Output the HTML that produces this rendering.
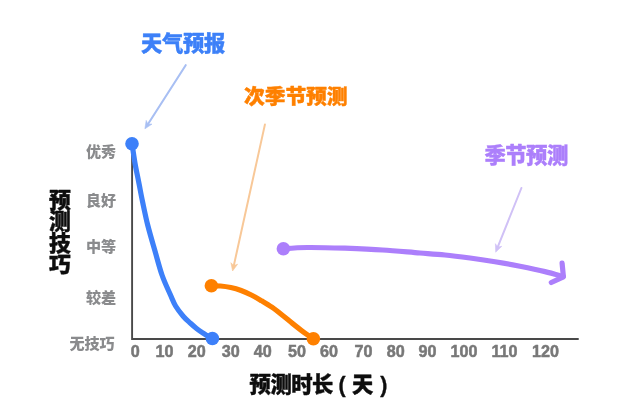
<!DOCTYPE html>
<html lang="zh-CN">
<head>
<meta charset="utf-8">
<title>预测技巧与预测时长</title>
<style>
html,body{margin:0;padding:0;background:#fff;}
body{width:640px;height:414px;overflow:hidden;}
svg{display:block;}
.h{font-family:"Liberation Sans","Noto Sans CJK SC","WenQuanYi Zen Hei",sans-serif;font-weight:900;}
.y{font-family:"Liberation Sans","Noto Sans CJK SC","WenQuanYi Zen Hei",sans-serif;font-weight:900;fill:#8a8b8d;font-size:15.1px;text-anchor:end;}
.t{font-family:"Liberation Sans",sans-serif;font-weight:700;fill:#787878;stroke:#787878;stroke-width:0.55px;stroke-linejoin:round;font-size:17.4px;text-anchor:middle;}
</style>
</head>
<body>
<svg width="640" height="414" viewBox="0 0 640 414">
<rect width="640" height="414" fill="#fff"/>
<g filter="url(#soft)">
<defs><filter id="soft" x="0" y="0" width="640" height="414" filterUnits="userSpaceOnUse"><feGaussianBlur stdDeviation="0.65"/></filter></defs>
<!-- axes -->
<path d="M132.1 143 V339 H578.7" fill="none" stroke="#484848" stroke-width="1.9"/>
<text class="t" transform="translate(135.3 356.6) scale(0.93 1)">0</text>
<text class="t" transform="translate(164.6 356.6) scale(0.93 1)">10</text>
<text class="t" transform="translate(196.8 356.6) scale(0.93 1)">20</text>
<text class="t" transform="translate(230.8 356.6) scale(0.93 1)">30</text>
<text class="t" transform="translate(262.8 356.6) scale(0.93 1)">40</text>
<text class="t" transform="translate(297.1 356.6) scale(0.93 1)">50</text>
<text class="t" transform="translate(328.9 356.6) scale(0.93 1)">60</text>
<text class="t" transform="translate(363.4 356.6) scale(0.93 1)">70</text>
<text class="t" transform="translate(395.7 356.6) scale(0.93 1)">80</text>
<text class="t" transform="translate(427.5 356.6) scale(0.93 1)">90</text>
<text class="t" transform="translate(464.1 356.6) scale(0.93 1)">100</text>
<text class="t" transform="translate(504.5 356.6) scale(0.93 1)">110</text>
<text class="t" transform="translate(545.5 356.6) scale(0.93 1)">120</text>
<text class="y" x="116.2" y="156.5">优秀</text>
<text class="y" x="116.2" y="205.9">良好</text>
<text class="y" x="116.2" y="251.5">中等</text>
<text class="y" x="116.2" y="302.8">较差</text>
<text class="y" x="114.7" y="349.1">无技巧</text>
<!-- axis titles -->
<text class="h" font-size="21.8" fill="#111" stroke="#111" stroke-width="0.4" stroke-linejoin="round" text-anchor="middle"><tspan x="60" y="207.5">预</tspan><tspan x="60" y="229">测</tspan><tspan x="60" y="250.5">技</tspan><tspan x="60" y="272">巧</tspan></text>
<text class="h" font-size="21.3" fill="#111" stroke="#111" stroke-width="0.4" stroke-linejoin="round" x="249.6" y="392.2" letter-spacing="-0.5">预测时长<tspan x="338.6">(</tspan><tspan x="352.0">天</tspan><tspan x="380.3">)</tspan></text>
<!-- series labels -->
<text class="h" font-size="21.3" fill="#3c80f8" stroke="#3c80f8" stroke-width="0.4" stroke-linejoin="round" x="141.0" y="50.6" letter-spacing="-0.3">天气预报</text>
<text class="h" font-size="20.8" fill="#fe8004" stroke="#fe8004" stroke-width="0.4" stroke-linejoin="round" x="244.0" y="104.0" letter-spacing="-0.1">次季节预测</text>
<text class="h" font-size="21.3" fill="#ac7ffb" stroke="#ac7ffb" stroke-width="0.4" stroke-linejoin="round" x="484.4" y="163.0" letter-spacing="-0.45">季节预测</text>
<!-- pointer arrows -->
<path d="M185.7 65.2 L147.9 124.2" fill="none" stroke="#a8bff3" stroke-width="2.1" stroke-linecap="round"/><path d="M144.9 128.8 L152.0 124.1 L147.9 124.2 L146.2 120.4 Z" fill="#a8bff3" stroke="#a8bff3" stroke-width="0.6" stroke-linejoin="round"/>
<path d="M264.9 124.6 L233.8 265.6" fill="none" stroke="#f8c898" stroke-width="2.0" stroke-linecap="round"/><path d="M232.6 271.0 L237.6 264.2 L233.8 265.6 L230.9 262.7 Z" fill="#f8c898" stroke="#f8c898" stroke-width="0.6" stroke-linejoin="round"/>
<path d="M521.4 188.0 L497.7 247.1" fill="none" stroke="#d0c1f6" stroke-width="2.0" stroke-linecap="round"/><path d="M495.7 252.2 L501.8 246.3 L497.7 247.1 L495.4 243.7 Z" fill="#d0c1f6" stroke="#d0c1f6" stroke-width="0.6" stroke-linejoin="round"/>
<!-- curves -->
<g fill="none" stroke-width="5.2" stroke-linecap="round" stroke-linejoin="round">
<path d="M132.0 143.8 C132.6 147.3 134.2 158.5 135.3 165.0 C136.5 171.5 137.8 177.2 138.9 183.0 C140.1 188.8 140.7 193.0 142.2 200.0 C143.7 207.0 145.6 216.7 147.7 225.0 C149.8 233.3 152.3 241.7 154.7 250.0 C157.1 258.3 159.4 267.5 162.0 275.0 C164.6 282.5 168.2 289.8 170.5 295.0 C172.8 300.2 173.5 302.5 175.6 306.0 C177.7 309.5 180.8 313.4 183.2 316.2 C185.6 319.0 188.0 321.0 190.2 323.0 C192.4 325.0 194.2 326.6 196.2 328.2 C198.2 329.8 200.3 331.3 202.3 332.7 C204.3 334.1 206.6 335.3 208.3 336.3 C210.0 337.3 211.6 338.1 212.3 338.5" stroke="#3c80f9"/>
<path d="M211.4 285.8 C212.9 285.8 217.3 285.7 220.5 286.0 C223.7 286.3 227.4 286.8 230.8 287.5 C234.2 288.2 237.7 289.2 241.1 290.5 C244.5 291.8 247.9 293.3 251.3 295.0 C254.7 296.7 258.2 298.8 261.6 300.8 C265.0 302.8 268.5 304.8 271.9 307.2 C275.3 309.6 278.7 312.3 282.1 315.0 C285.5 317.7 288.9 320.6 292.4 323.4 C295.9 326.2 299.4 329.0 302.9 331.6 C306.4 334.2 311.6 337.6 313.4 338.8" stroke="#fe8004"/>
<path d="M283.0 248.8 C287.1 248.5 297.2 247.6 307.5 247.5 C317.8 247.4 332.5 247.8 345.0 248.2 C357.5 248.7 370.0 249.2 382.5 250.0 C395.0 250.8 409.6 252.2 420.0 253.0 C430.4 253.8 436.7 254.2 445.0 255.0 C453.3 255.8 461.7 256.9 470.0 258.0 C478.3 259.1 486.7 260.4 495.0 261.8 C503.3 263.1 511.7 264.6 520.0 266.2 C528.3 267.9 537.8 269.9 545.0 271.6 C552.2 273.3 560.2 275.8 563.2 276.6" stroke="#ac7ffb"/>
<path d="M562.1 263.2 L563.4 276.8 L551.3 282.5" stroke="#ac7ffb"/>
</g>
<circle cx="132" cy="143.8" r="6.8" fill="#3c80f9"/>
<circle cx="212.4" cy="338.5" r="6.8" fill="#3c80f9"/>
<circle cx="211.4" cy="285.8" r="6.8" fill="#fe8004"/>
<circle cx="313.4" cy="338.8" r="6.8" fill="#fe8004"/>
<circle cx="283.4" cy="248.75" r="6.8" fill="#ac7ffb"/>
</g>
</svg>
</body>
</html>
